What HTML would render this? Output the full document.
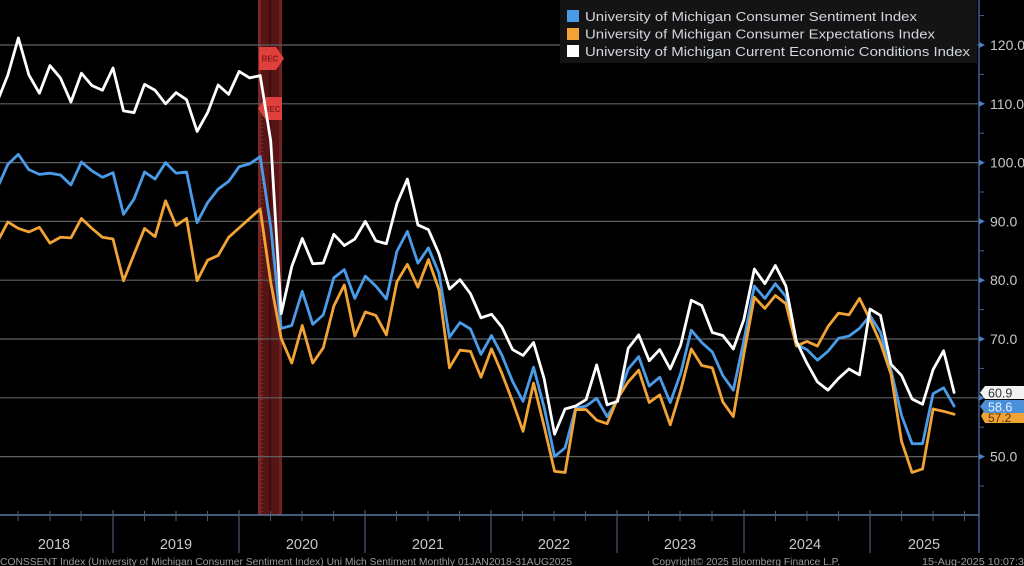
<!DOCTYPE html>
<html>
<head>
<meta charset="utf-8">
<style>
html,body{margin:0;padding:0;background:#000;}
svg{display:block;font-family:"Liberation Sans",Arial,sans-serif;}
</style>
</head>
<body>
<svg width="1024" height="566" viewBox="0 0 1024 566" xmlns="http://www.w3.org/2000/svg">
<rect x="0" y="0" width="1024" height="566" fill="#000"/>

<!-- recession bar -->
<rect x="258" y="0" width="24" height="515" fill="#561515"/>
<rect x="258" y="0" width="3" height="515" fill="#7a2626"/>
<rect x="279" y="0" width="3" height="515" fill="#702222"/>
<line x1="270" y1="0" x2="270" y2="515" stroke="#3e0c0c" stroke-width="2"/>

<!-- gridlines -->
<g stroke="#606060" stroke-width="1.2">
<line x1="0" y1="45" x2="979" y2="45"/>
<line x1="0" y1="103.8" x2="979" y2="103.8"/>
<line x1="0" y1="162.6" x2="979" y2="162.6"/>
<line x1="0" y1="221.4" x2="979" y2="221.4"/>
<line x1="0" y1="280.2" x2="979" y2="280.2"/>
<line x1="0" y1="339" x2="979" y2="339"/>
<line x1="0" y1="397.8" x2="979" y2="397.8"/>
<line x1="0" y1="456.6" x2="979" y2="456.6"/>
</g>

<line x1="262" y1="115" x2="262" y2="515" stroke="#d06030" stroke-width="1" stroke-dasharray="1,3" opacity="0.7"/>

<!-- REC markers -->
<polygon points="259,47 276,47 284,58.5 276,70 259,70" fill="#e0403c"/>
<text x="270" y="61.5" font-size="8" font-weight="bold" fill="#8a1a1a" text-anchor="middle">REC</text>
<polygon points="258,108.5 266,97 282,97 282,120 266,120" fill="#e0403c"/>
<text x="272" y="112" font-size="8" font-weight="bold" fill="#8a1a1a" text-anchor="middle">REC</text>

<!-- series -->
<g transform="matrix(10.514 0 0 -5.88 -2.66 750.6)" fill="none" stroke-linejoin="round" stroke-linecap="round">
<polyline vector-effect="non-scaling-stroke" stroke="#4a9be8" stroke-width="2.8" points="0,95.7 1,99.7 2,101.4 3,98.8 4,98.0 5,98.2 6,97.9 7,96.2 8,100.1 9,98.6 10,97.5 11,98.3 12,91.2 13,93.8 14,98.4 15,97.2 16,100.0 17,98.2 18,98.4 19,89.8 20,93.2 21,95.5 22,96.8 23,99.3 24,99.8 25,101.0 26,89.1 27,71.8 28,72.3 29,78.1 30,72.5 31,74.1 32,80.4 33,81.8 34,76.9 35,80.7 36,79.0 37,76.8 38,84.9 39,88.3 40,82.9 41,85.5 42,81.2 43,70.3 44,72.8 45,71.7 46,67.4 47,70.6 48,67.2 49,62.8 50,59.4 51,65.2 52,58.4 53,50.0 54,51.5 55,58.2 56,58.6 57,59.9 58,56.8 59,59.7 60,64.9 61,67.0 62,62.0 63,63.5 64,59.2 65,64.2 66,71.5 67,69.4 68,67.8 69,63.8 70,61.3 71,69.7 72,79.0 73,76.9 74,79.4 75,77.2 76,69.1 77,68.2 78,66.4 79,67.9 80,70.1 81,70.5 82,71.8 83,74.0 84,71.1 85,64.7 86,57.0 87,52.2 88,52.2 89,60.7 90,61.7 91,58.6"/>
<polyline vector-effect="non-scaling-stroke" stroke="#f2a336" stroke-width="2.8" points="0,86.5 1,89.9 2,88.8 3,88.2 4,89.0 5,86.3 6,87.3 7,87.2 8,90.5 9,88.8 10,87.3 11,87.0 12,79.9 13,84.4 14,88.8 15,87.4 16,93.5 17,89.3 18,90.5 19,79.9 20,83.4 21,84.2 22,87.3 23,88.9 24,90.5 25,92.1 26,79.7 27,70.1 28,65.9 29,72.3 30,65.9 31,68.5 32,75.6 33,79.2 34,70.5 35,74.6 36,74.0 37,70.7 38,79.7 39,82.7 40,78.8 41,83.5 42,78.4 43,65.1 44,68.1 45,67.9 46,63.5 47,68.3 48,64.1 49,59.4 50,54.3 51,62.5 52,55.2 53,47.5 54,47.3 55,58.0 56,58.0 57,56.2 58,55.6 59,59.9 60,62.7 61,64.7 62,59.2 63,60.5 64,55.4 65,61.3 66,68.3 67,65.5 68,65.1 69,59.3 70,56.8 71,67.4 72,77.1 73,75.2 74,77.4 75,76.0 76,68.8 77,69.6 78,68.8 79,72.1 80,74.4 81,74.1 82,76.9 83,73.3 84,69.3 85,64.0 86,52.6 87,47.3 88,47.9 89,58.1 90,57.7 91,57.2"/>
<polyline vector-effect="non-scaling-stroke" stroke="#ffffff" stroke-width="2.8" points="0,110.4 1,114.9 2,121.2 3,114.9 4,111.8 5,116.5 6,114.4 7,110.3 8,115.2 9,113.1 10,112.3 11,116.1 12,108.8 13,108.5 14,113.3 15,112.3 16,110.0 17,111.9 18,110.7 19,105.3 20,108.5 21,113.2 22,111.6 23,115.5 24,114.4 25,114.8 26,103.7 27,74.3 28,82.3 29,87.1 30,82.8 31,82.9 32,87.8 33,85.9 34,87.0 35,90.0 36,86.7 37,86.2 38,93.0 39,97.2 40,89.4 41,88.6 42,84.5 43,78.5 44,80.1 45,77.7 46,73.6 47,74.2 48,72.0 49,68.2 50,67.2 51,69.4 52,63.3 53,53.8 54,58.1 55,58.6 56,59.7 57,65.6 58,58.8 59,59.4 60,68.4 61,70.7 62,66.3 63,68.2 64,64.9 65,69.0 66,76.6 67,75.7 68,71.1 69,70.6 70,68.3 71,73.3 72,81.9 73,79.4 74,82.5 75,79.0 76,69.6 77,65.9 78,62.7 79,61.3 80,63.3 81,64.9 82,63.9 83,75.1 84,74.0 85,65.7 86,63.8 87,59.8 88,58.9 89,64.8 90,68.0 91,60.9"/>
</g>

<!-- legend -->
<rect x="560" y="0" width="417" height="63" fill="#141414"/>
<rect x="567" y="10" width="12" height="12" fill="#4a9be8"/>
<rect x="567" y="28" width="12" height="12" fill="#f2a336"/>
<rect x="567" y="45" width="12" height="12" fill="#ffffff"/>
<g font-size="13" fill="#d2d6de">
<text x="585" y="21" textLength="332" lengthAdjust="spacingAndGlyphs">University of Michigan Consumer Sentiment Index</text>
<text x="585" y="38.5" textLength="350" lengthAdjust="spacingAndGlyphs">University of Michigan Consumer Expectations Index</text>
<text x="585" y="56" textLength="385" lengthAdjust="spacingAndGlyphs">University of Michigan Current Economic Conditions Index</text>
</g>

<!-- right axis -->
<line x1="979" y1="0" x2="979" y2="553" stroke="#3f5f95" stroke-width="1.5"/>
<g fill="#4a80c8">
<polygon points="979,42 985,45 979,48"/>
<polygon points="979,100.8 985,103.8 979,106.8"/>
<polygon points="979,159.6 985,162.6 979,165.6"/>
<polygon points="979,218.4 985,221.4 979,224.4"/>
<polygon points="979,277.2 985,280.2 979,283.2"/>
<polygon points="979,336 985,339 979,342"/>
<polygon points="979,394.8 985,397.8 979,400.8"/>
<polygon points="979,453.6 985,456.6 979,459.6"/>
</g>
<g stroke="#3f5f95" stroke-width="1">
<line x1="979" y1="15.6" x2="984" y2="15.6"/>
<line x1="979" y1="74.4" x2="984" y2="74.4"/>
<line x1="979" y1="133.2" x2="984" y2="133.2"/>
<line x1="979" y1="192" x2="984" y2="192"/>
<line x1="979" y1="250.8" x2="984" y2="250.8"/>
<line x1="979" y1="309.6" x2="984" y2="309.6"/>
<line x1="979" y1="368.4" x2="984" y2="368.4"/>
<line x1="979" y1="427.2" x2="984" y2="427.2"/>
<line x1="979" y1="486" x2="984" y2="486"/>
</g>
<g font-size="14" fill="#c8c8c8">
<text x="990" y="50">120.0</text>
<text x="990" y="108.8">110.0</text>
<text x="990" y="167.6">100.0</text>
<text x="990" y="226.4">90.0</text>
<text x="990" y="285.2">80.0</text>
<text x="990" y="344">70.0</text>
<text x="990" y="461.6">50.0</text>
</g>

<!-- end labels -->
<polygon points="985,409 1024,409 1024,423 985,423 981,416" fill="#f2a336"/>
<text x="988" y="422" font-size="12" fill="#5a3000">57.2</text>
<polygon points="980,392.5 985,386 1024,386 1024,399 985,399" fill="#f2f2f2"/>
<text x="988" y="397.5" font-size="12.5" fill="#333">60.9</text>
<polygon points="980,406.5 985,400 1024,400 1024,413 985,413" fill="#4a90d8"/>
<text x="988" y="411.5" font-size="12.5" fill="#e6f2ff">58.6</text>

<!-- x axis -->
<line x1="0" y1="515" x2="979" y2="515" stroke="#5a7aa0" stroke-width="1.5"/>
<g stroke="#4a5a70" stroke-width="1.2">
<line x1="113" y1="510" x2="113" y2="553"/>
<line x1="239" y1="510" x2="239" y2="553"/>
<line x1="365" y1="510" x2="365" y2="553"/>
<line x1="491" y1="510" x2="491" y2="553"/>
<line x1="617" y1="510" x2="617" y2="553"/>
<line x1="744" y1="510" x2="744" y2="553"/>
<line x1="870" y1="510" x2="870" y2="553"/>
</g>
<g stroke="#4a5a70" stroke-width="1">
<line x1="18" y1="511" x2="18" y2="521"/><line x1="50" y1="511" x2="50" y2="521"/><line x1="81" y1="511" x2="81" y2="521"/>
<line x1="144.5" y1="511" x2="144.5" y2="521"/><line x1="176" y1="511" x2="176" y2="521"/><line x1="207.5" y1="511" x2="207.5" y2="521"/>
<line x1="270.5" y1="511" x2="270.5" y2="521"/><line x1="302" y1="511" x2="302" y2="521"/><line x1="333.5" y1="511" x2="333.5" y2="521"/>
<line x1="396.5" y1="511" x2="396.5" y2="521"/><line x1="428" y1="511" x2="428" y2="521"/><line x1="459.5" y1="511" x2="459.5" y2="521"/>
<line x1="522.5" y1="511" x2="522.5" y2="521"/><line x1="554" y1="511" x2="554" y2="521"/><line x1="585.5" y1="511" x2="585.5" y2="521"/>
<line x1="648.5" y1="511" x2="648.5" y2="521"/><line x1="680" y1="511" x2="680" y2="521"/><line x1="712" y1="511" x2="712" y2="521"/>
<line x1="775.5" y1="511" x2="775.5" y2="521"/><line x1="807" y1="511" x2="807" y2="521"/><line x1="838.5" y1="511" x2="838.5" y2="521"/>
<line x1="901.5" y1="511" x2="901.5" y2="521"/><line x1="933" y1="511" x2="933" y2="521"/><line x1="964.5" y1="511" x2="964.5" y2="521"/>
</g>
<g font-size="14.5" fill="#c8c8c8" text-anchor="middle">
<text x="54" y="549">2018</text>
<text x="176" y="549">2019</text>
<text x="302" y="549">2020</text>
<text x="428" y="549">2021</text>
<text x="554" y="549">2022</text>
<text x="680" y="549">2023</text>
<text x="805" y="549">2024</text>
<text x="924" y="549">2025</text>
</g>

<!-- footer -->
<g font-size="10" fill="#9a9a9a">
<text x="0" y="565" textLength="572" lengthAdjust="spacingAndGlyphs">CONSSENT Index (University of Michigan Consumer Sentiment Index) Uni Mich Sentiment  Monthly 01JAN2018-31AUG2025</text>
<text x="652" y="565" textLength="188" lengthAdjust="spacingAndGlyphs">Copyright© 2025 Bloomberg Finance L.P.</text>
<text x="922" y="565" textLength="108" lengthAdjust="spacingAndGlyphs">15-Aug-2025 10:07:38</text>
</g>
</svg>
</body>
</html>
